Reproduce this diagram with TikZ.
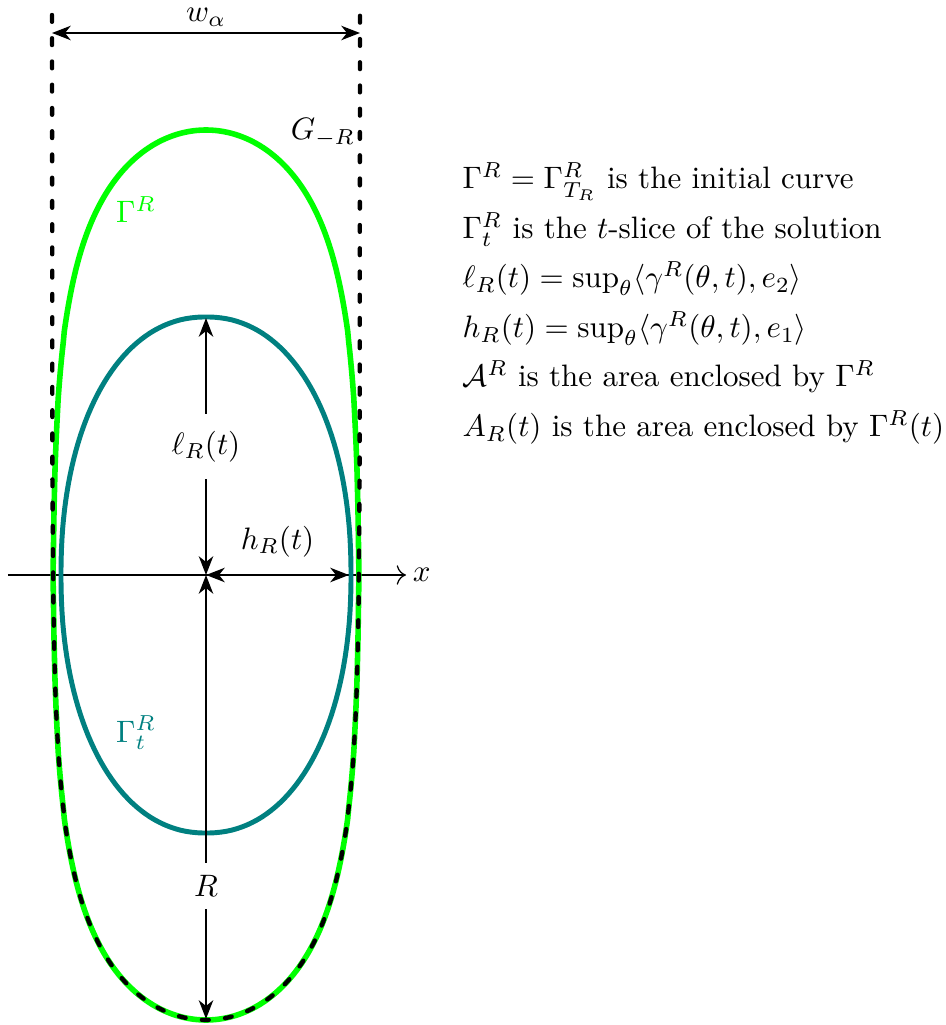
\documentclass[tikz,border=0pt]{standalone}
\usetikzlibrary{arrows.meta}
\begin{document}
\begin{tikzpicture}[x=0.3226pt,y=0.3226pt,
  dim/.style={line width=0.9pt,{Stealth[length=6pt,width=4.6pt,inset=1.8pt]}-{Stealth[length=6pt,width=4.6pt,inset=1.8pt]}},
  dashline/.style={line width=1.4pt,dash pattern=on 2.2pt off 5.3pt,line cap=round},
  greenline/.style={line width=1.8pt,draw=green},
  tealline/.style={line width=1.6pt,draw=teal},
  lbl/.style={fill=white,inner xsep=2pt},
  txt/.style={anchor=base west,inner sep=0pt}]
\useasboundingbox (-206,-450) rectangle (739,575);
% coordinates
\coordinate (O) at (0,0);
\coordinate (tt) at (0,257);
\coordinate (tr) at (143,0);
\coordinate (gb) at (0,-444);
\coordinate (wl) at (-154,542);
\coordinate (wr) at (154,542);
\coordinate (axl) at (-198,0);
\coordinate (axr) at (200,0);
% x axis
\draw[line width=0.4pt,-{To[length=3pt]}] (axl) -- (axr) node[right=2pt,inner sep=0pt] (xl) {$x$};
% green curve Gamma^R
\draw[greenline] plot[domain=-89.388:89.388,samples=300] ({308/180*\x},{-445-98.04*ln(cos(\x))})
  -- plot[domain=89.388:-89.388,samples=300] ({308/180*\x},{445+98.04*ln(cos(\x))}) -- cycle;
% teal curve Gamma_t^R
\draw[tealline] plot[domain=1:359,samples=180] ({145*sign(cos(\x))*abs(cos(\x))^0.93},{258*sign(sin(\x))*abs(sin(\x))^0.93}) -- cycle;
% dashed grim reaper G_{-R}
\draw[dashline] (-154,560) -- (-153.6,100.3) -- plot[domain=-89.78:89.78,samples=300] ({308/180*\x},{-445-98.04*ln(cos(\x))}) -- (154,560);
% dimension arrows
\draw[dim] (wl) -- (wr);
\node[anchor=base] (wlab) at (0,553) {$w_\alpha$};
\draw[dim] (O) -- node[lbl,inner ysep=5.5pt] (llab) {$\ell_R(t)$} (tt);
\draw[dim] (O) -- node[lbl,inner ysep=4pt,pos=0.7] (Rlab) {$R$} (gb);
\draw[dim] (O) -- node[above=2pt] (hlab) {$h_R(t)$} (tr);
% labels
\node[anchor=base] (G) at (117,435) {$G_{-R}$};
\node[anchor=base,text=green] (GR) at (-70,352) {$\Gamma^R$};
\node[anchor=base,text=teal] (GRt) at (-70,-167) {$\Gamma^R_t$};
% legend
\node[txt] (t1) at (256,386) {$\Gamma^R=\Gamma^R_{T_R}$ is the initial curve};
\node[txt] (t2) at (256,336.5) {$\Gamma^R_t$ is the $t$-slice of the solution};
\node[txt] (t3) at (256,287) {$\ell_R(t)=\sup_\theta\langle\gamma^R(\theta,t),e_2\rangle$};
\node[txt] (t4) at (256,237.5) {$h_R(t)=\sup_\theta\langle\gamma^R(\theta,t),e_1\rangle$};
\node[txt] (t5) at (256,188) {$\mathcal{A}^R$ is the area enclosed by $\Gamma^R$};
\node[txt] (t6) at (256,138.5) {$A_R(t)$ is the area enclosed by $\Gamma^R(t)$};
\end{tikzpicture}
\end{document}
